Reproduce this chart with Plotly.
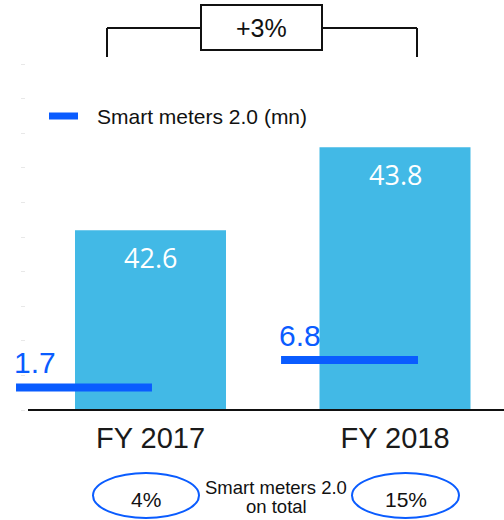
import plotly.graph_objects as go

# ---- data ----
categories = ["FY 2017", "FY 2018"]
meters_total = [42.6, 43.8]          # bars (mn)
smart_meters = [1.7, 6.8]            # Smart meters 2.0 (mn)
share_on_total = ["4%", "15%"]
growth_label = "+3%"
series_name = "Smart meters 2.0 (mn)"
share_caption = ["Smart meters 2.0", "on total"]

# ---- styling / layout constants ----
W, H = 504, 520
PH = 410  # plot area height in px (top margin 0)
BAR_COLOR = "#42b9e6"
BLUE = "#0a5cff"
ARIAL = "Liberation Sans, Arial, sans-serif"

def px_x(p):
    return p / W

def px_y(p):
    return (PH - p) / PH

# x axis scaling: category centers at 150.5 px and 395 px
unit = 244.5
x0 = 150.5
xrange = [-x0 / unit, (W - x0) / unit]
bar_width = 151 / unit

# primary y: base 40 at bottom, 69.17 px per unit
ppu = 69.17
yrange = [40, 40 + PH / ppu]

# secondary y for smart meters: 1.7 -> 387.5px, 6.8 -> 360px
sppu = (387.5 - 360) / (6.8 - 1.7)
y2range = [1.7 - (PH - 387.5) / sppu, 1.7 + 387.5 / sppu]

# segment offsets relative to category center (x units)
seg_start = [-0.550, -0.466]
seg_end = [0.006, 0.094]

xs = list(range(len(categories)))

fig = go.Figure()
fig.add_trace(go.Bar(
    x=xs, y=meters_total, width=bar_width, marker_color=BAR_COLOR,
    marker_line_width=0, showlegend=False, hoverinfo="skip",
))

seg_x, seg_y = [], []
for i, v in enumerate(smart_meters):
    seg_x += [i + seg_start[i], i + seg_end[i], None]
    seg_y += [v, v, None]
fig.add_trace(go.Scatter(
    x=seg_x, y=seg_y, yaxis="y2", mode="lines",
    line=dict(color=BLUE, width=8), showlegend=False, hoverinfo="skip",
    name=series_name,
))

annotations = []
for i, v in enumerate(meters_total):
    annotations.append(dict(
        x=i, y=v, xref="x", yref="y", text=f"{v:.1f}", showarrow=False,
        yanchor="middle", yshift=-27.5,
        font=dict(family="Open Sans, sans-serif", size=27, color="white"),
    ))
for i, v in enumerate(smart_meters):
    annotations.append(dict(
        x=i + seg_start[i], y=v, xref="x", yref="y2", text=f"{v:.1f}",
        showarrow=False, xanchor="left", yanchor="middle", xshift=-4, yshift=25,
        font=dict(family=ARIAL, size=30, color=BLUE),
    ))

# growth box label
annotations.append(dict(
    x=px_x(261.5), y=px_y(28.5), xref="paper", yref="paper", text=growth_label,
    showarrow=False, xanchor="center", yanchor="middle",
    font=dict(family=ARIAL, size=25, color="#111"),
))
# legend text
annotations.append(dict(
    x=px_x(95), y=px_y(116), xref="paper", yref="paper", text=series_name,
    showarrow=False, xanchor="left", yanchor="middle",
    font=dict(family=ARIAL, size=21, color="#111"),
))
# share ovals text
oval_cx = [146, 405.5]
for cx, t in zip(oval_cx, share_on_total):
    annotations.append(dict(
        x=px_x(cx), y=px_y(499.5), xref="paper", yref="paper", text=t,
        showarrow=False, xanchor="center", yanchor="middle",
        font=dict(family=ARIAL, size=21, color="#111"),
    ))
for yy, t in zip([487.5, 506.5], share_caption):
    annotations.append(dict(
        x=px_x(276), y=px_y(yy), xref="paper", yref="paper", text=t,
        showarrow=False, xanchor="center", yanchor="middle",
        font=dict(family=ARIAL, size=18.5, color="#111"),
    ))

shapes = []
line_black = dict(color="#111", width=2)
# baseline
shapes.append(dict(type="line", xref="paper", yref="paper",
                   x0=px_x(28), x1=1, y0=px_y(410), y1=px_y(410), line=line_black))
# bracket
for (a, b, c, d) in [(107, 57, 107, 28), (107, 28, 201, 28), (322, 28, 417, 28), (417, 28, 417, 57)]:
    shapes.append(dict(type="line", xref="paper", yref="paper",
                       x0=px_x(a), y0=px_y(b), x1=px_x(c), y1=px_y(d), line=line_black))
shapes.append(dict(type="rect", xref="paper", yref="paper",
                   x0=px_x(201), x1=px_x(322), y0=px_y(50), y1=px_y(5),
                   line=line_black, fillcolor="white"))
# legend symbol
shapes.append(dict(type="rect", xref="paper", yref="paper",
                   x0=px_x(49), x1=px_x(78), y0=px_y(119.5), y1=px_y(112.5),
                   line_width=0, fillcolor=BLUE))
# ovals
for (a, b) in [(93, 199), (352, 459)]:
    shapes.append(dict(type="circle", xref="paper", yref="paper",
                       x0=px_x(a), x1=px_x(b), y0=px_y(518), y1=px_y(473),
                       line=dict(color=BLUE, width=2)))

fig.update_layout(
    width=W, height=H,
    margin=dict(l=0, r=0, t=0, b=H - PH, pad=0),
    paper_bgcolor="white", plot_bgcolor="white",
    showlegend=False,
    xaxis=dict(range=xrange, tickvals=xs, ticktext=categories, showgrid=False,
               zeroline=False, showline=False, ticks="", ticklabelstandoff=8,
               tickfont=dict(family=ARIAL, size=29, color="#1a1a1a"), fixedrange=True),
    yaxis=dict(range=yrange, showgrid=False, zeroline=False, showline=False,
               tickvals=[40 + 0.5 * k for k in range(11)], ticks="outside", ticklen=4,
               tickcolor="#e8e8e8", showticklabels=False, anchor="free",
               position=px_x(25), fixedrange=True),
    yaxis2=dict(range=y2range, overlaying="y", visible=False, fixedrange=True),
    annotations=annotations, shapes=shapes,
)

fig.write_html("out.html", config={"displayModeBar": False},
               post_script="document.body.style.margin='0';document.body.style.overflow='hidden';")
